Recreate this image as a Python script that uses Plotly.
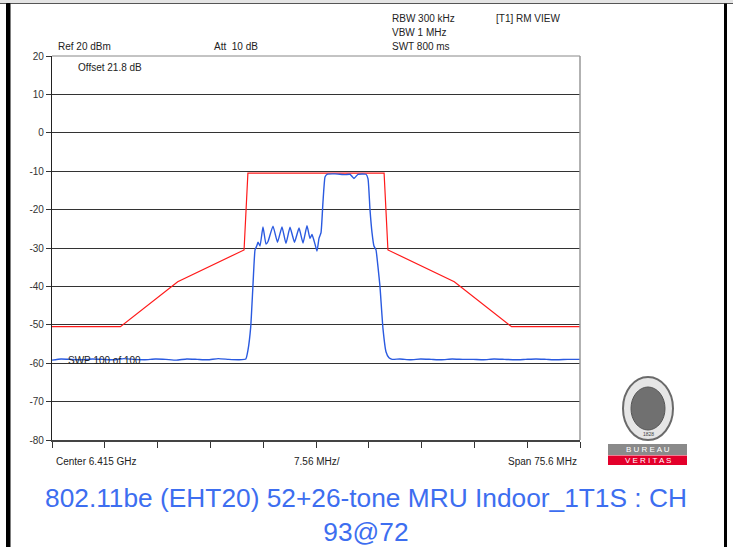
import plotly.graph_objects as go

# ---------------- data ----------------
# frequency offset from centre (MHz), span 75.6 MHz
trace_freq = [-37.8, -36.5, -35.0, -33.5, -32.0, -30.5, -29.0, -27.5, -26.0, -24.5,
              -23.0, -21.5, -20.0, -18.5, -17.0, -15.5, -14.0, -12.5, -11.0, -10.05,
              -9.74, -9.35, -9.06, -8.73, -8.49, -8.30, -8.02, -7.59, -7.16, -6.87,
              -6.16, -5.51, -4.87, -4.30, -3.72, -3.08, -2.43, -1.86, -1.29, -0.86,
              -0.57, -0.14, 0.14, 0.43, 0.72, 1.00, 1.29, 1.58, 2.72, 4.15,
              4.87, 5.44, 6.01, 7.16, 7.45, 7.73, 8.02, 8.30, 8.59, 8.88,
              9.16, 9.59, 10.02, 10.45, 10.9, 12.0, 13.5, 15.0, 16.5, 18.0,
              19.5, 21.0, 22.5, 24.0, 25.5, 27.0, 28.5, 30.0, 31.5, 33.0,
              34.5, 36.0, 37.8]
trace_level = [-59.2, -58.9, -59.0, -59.1, -58.9, -59.0, -59.1, -58.8, -59.0, -59.1,
               -58.9, -59.0, -59.2, -58.9, -59.0, -59.1, -58.8, -59.0, -59.1, -58.9,
               -56.6, -50.6, -41.0, -30.5, -29.5, -28.5, -29.5, -24.5, -29.0, -28.3,
               -24.3, -28.5, -24.5, -28.8, -24.6, -28.5, -24.8, -28.7, -24.2, -27.5,
               -26.5, -29.0, -30.8, -27.5, -26.0, -18.0, -11.5, -10.8, -10.7, -10.9,
               -10.8, -11.9, -10.8, -10.8, -12.0, -20.0, -26.0, -29.5, -30.5, -35.0,
               -40.0, -51.0, -57.0, -58.6, -59.0, -58.9, -59.1, -58.9, -59.0, -59.1,
               -58.9, -59.0, -59.0, -59.1, -58.9, -59.0, -59.1, -59.0, -58.9, -59.0,
               -59.1, -59.0, -59.0]

mask_freq = [-37.8, -28.0, -19.8, -10.3, -9.75, 9.75, 10.3, 19.8, 28.0, 37.8]
mask_level = [-50.5, -50.5, -38.8, -30.5, -10.5, -10.5, -30.5, -38.8, -50.5, -50.5]

y_ticks = [20, 10, 0, -10, -20, -30, -40, -50, -60, -70, -80]
y_tick_labels = ["20", "10", "0", "-10", "-20", "-30", "-40", "-50", "-60", "-70", "-80"]

header_texts = ["Ref 20 dBm", "Att  10 dB", "RBW 300 kHz", "VBW 1 MHz", "SWT 800 ms", "[T1] RM VIEW"]
bottom_texts = ["Center 6.415 GHz", "7.56 MHz/", "Span 75.6 MHz"]
title_text = "802.11be (EHT20) 52+26-tone MRU Indoor_1T1S : CH<br>93@72"

# ---------------- figure ----------------
W, H = 733, 547
PL, PR, PT, PB = 52, 580, 56, 440


def px(x):
    return x / W


def py(y):
    return 1 - y / H


fig = go.Figure()
fig.add_trace(go.Scatter(x=mask_freq, y=mask_level, mode="lines",
                         line=dict(color="#ff1a1a", width=1.2), hoverinfo="skip"))
fig.add_trace(go.Scatter(x=trace_freq, y=trace_level, mode="lines",
                         line=dict(color="#2a5ae0", width=1.4, shape="spline", smoothing=0.4),
                         hoverinfo="skip"))

font = dict(family="Liberation Sans, Arial, sans-serif", size=10, color="#222")

fig.update_layout(
    width=W, height=H,
    margin=dict(l=0, r=0, t=0, b=0, autoexpand=False),
    paper_bgcolor="white", plot_bgcolor="white",
    showlegend=False,
    font=font,
    xaxis=dict(domain=[px(PL), px(PR)], range=[-37.8, 37.8], tick0=-37.8, dtick=7.56,
               showticklabels=False, ticks="outside", ticklen=6, tickcolor="#333",
               tickwidth=1, showgrid=False, zeroline=False,
               showline=True, linecolor="#444", linewidth=1.5, mirror=False),
    yaxis=dict(domain=[py(PB), py(PT)], range=[-80, 20], tickvals=y_ticks,
               ticktext=y_tick_labels, ticks="outside", ticklen=5, tickcolor="#333",
               tickfont=dict(family="Liberation Sans, Arial, sans-serif", size=10, color="#333"),
               showgrid=True, gridcolor="#333", gridwidth=1.3, zeroline=False,
               showline=True, linecolor="#222", linewidth=1.3),
)

shapes = []
# plot frame (top and right, grey)
shapes.append(dict(type="line", xref="paper", yref="paper", x0=px(PL), x1=px(PR),
                   y0=py(PT), y1=py(PT), line=dict(color="#888", width=1)))
shapes.append(dict(type="line", xref="paper", yref="paper", x0=px(PR), x1=px(PR),
                   y0=py(PT), y1=py(PB), line=dict(color="#999", width=1.5)))
# outer page border
shapes.append(dict(type="rect", xref="paper", yref="paper", x0=0, x1=1, y0=py(3.5), y1=1,
                   fillcolor="#e4e4e4", line=dict(width=0)))
shapes.append(dict(type="line", xref="paper", yref="paper", x0=0, x1=1, y0=py(3.5), y1=py(3.5),
                   line=dict(color="#555", width=1)))
shapes.append(dict(type="rect", xref="paper", yref="paper", x0=px(6.5), x1=px(10), y0=0, y1=py(3.5),
                   fillcolor="#000000", line=dict(color="#000000", width=1), layer="above"))
shapes.append(dict(type="rect", xref="paper", yref="paper", x0=px(724), x1=px(727), y0=0, y1=py(3.5),
                   fillcolor="#000000", line=dict(width=0), layer="above"))
# logo
shapes.append(dict(type="circle", xref="paper", yref="paper", x0=px(623), x1=px(673), y0=py(440), y1=py(377),
                   fillcolor="#e6e6e6", line=dict(color="#6a6a6a", width=2)))
shapes.append(dict(type="circle", xref="paper", yref="paper", x0=px(631), x1=px(665), y0=py(430), y1=py(387),
                   fillcolor="#707070", line=dict(color="#555", width=1)))
shapes.append(dict(type="rect", xref="paper", yref="paper", x0=px(608), x1=px(687), y0=py(455), y1=py(444),
                   fillcolor="#8a8a8a", line=dict(width=0)))
shapes.append(dict(type="rect", xref="paper", yref="paper", x0=px(608), x1=px(687), y0=py(465), y1=py(455.5),
                   fillcolor="#e3002b", line=dict(width=0)))
fig.update_layout(shapes=shapes)

ann = []


def add_text(t, x, y, anchor="left", size=10, color="#222", yanchor="middle"):
    ann.append(dict(text=t, x=px(x), y=py(y), xref="paper", yref="paper", showarrow=False,
                    xanchor=anchor, yanchor=yanchor,
                    font=dict(family="Liberation Sans, Arial, sans-serif", size=size, color=color)))


add_text(header_texts[0], 56, 47)
add_text(header_texts[1], 212, 47)
add_text(header_texts[2], 390, 18)
add_text(header_texts[3], 390, 33)
add_text(header_texts[4], 390, 47)
add_text(header_texts[5], 494, 18)
add_text("Offset 21.8 dB", 76, 67)
add_text("SWP 100 of 100", 66, 360)
add_text(bottom_texts[0], 54, 461)
add_text(bottom_texts[1], 317, 461, anchor="center")
add_text(bottom_texts[2], 579, 461, anchor="right")
add_text("1828", 648, 434, anchor="center", size=5, color="#444")
add_text("B U R E A U", 647.5, 449.5, anchor="center", size=8, color="white")
add_text("V E R I T A S", 647.5, 460, anchor="center", size=8, color="white")

ann.append(dict(text=title_text, x=px(366), y=py(515), xref="paper", yref="paper", showarrow=False,
                xanchor="center", yanchor="middle", align="center",
                font=dict(family="Liberation Sans, Arial, sans-serif", size=26.3, color="#3d6ef0")))
fig.update_layout(annotations=ann)

fig.write_html("out.html", config={"displayModeBar": False},
               post_script="document.body.style.margin='0';document.body.style.padding='0';"
                           "document.body.style.overflow='hidden';")
